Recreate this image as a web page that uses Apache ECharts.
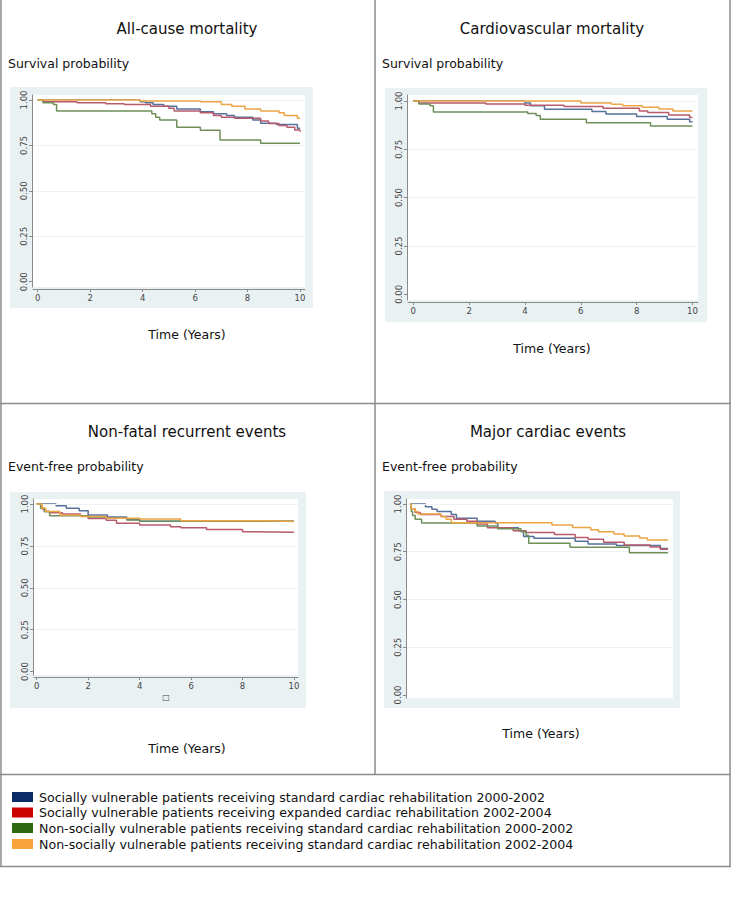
<!DOCTYPE html>
<html><head><meta charset="utf-8">
<script src="https://cdn.jsdelivr.net/npm/echarts@6/dist/echarts.min.js"></script>
<style>html,body{margin:0;padding:0;background:#fff}#c{width:731px;height:900px}</style>
</head><body><div id="c"></div>
<script>
// ---------- data (time in years, survival / event-free probability) ----------
const yTicks = [0, 0.25, 0.5, 0.75, 1];
const xTicks = [0, 2, 4, 6, 8, 10];
const panelTitles = ['All-cause mortality', 'Cardiovascular mortality', 'Non-fatal recurrent events', 'Major cardiac events'];
const yTitles = ['Survival probability', 'Survival probability', 'Event-free probability', 'Event-free probability'];
const xTitle = 'Time (Years)';
const groupNames = [
  'Socially vulnerable patients receiving standard cardiac rehabilitation 2000-2002',
  'Socially vulnerable patients receiving expanded cardiac rehabilitation 2002-2004',
  'Non-socially vulnerable patients receiving standard cardiac rehabilitation 2000-2002',
  'Non-socially vulnerable patients receiving standard cardiac rehabilitation 2002-2004'
];

// All-cause mortality
const acBlue = [[0,1],[3.9,0.99],[4.1,0.985],[4.4,0.975],[4.8,0.965],[5.3,0.95],[6.2,0.935],[6.7,0.925],[7.2,0.915],[7.5,0.905],[8.2,0.89],[8.5,0.872],[9.1,0.865],[9.9,0.845],[10,0.845]];
const acRed = [[0,1],[0.2,0.99],[1.5,0.985],[2.6,0.98],[3.3,0.975],[4.3,0.965],[5.0,0.955],[5.2,0.94],[6.2,0.93],[6.7,0.915],[7.0,0.905],[7.5,0.9],[8.5,0.885],[8.8,0.87],[9.2,0.86],[9.5,0.85],[9.8,0.835],[10,0.825]];
const acGreen = [[0,1],[0.2,0.985],[0.6,0.975],[0.72,0.94],[4.35,0.925],[4.5,0.905],[4.65,0.89],[5.3,0.85],[6.2,0.834],[6.95,0.78],[8.5,0.762],[10,0.762]];
const acOrange = [[0,1],[3.9,0.995],[6.2,0.99],[7.0,0.975],[7.4,0.965],[7.9,0.95],[8.5,0.94],[9.2,0.93],[9.4,0.915],[9.9,0.9],[10,0.9]];

// Cardiovascular mortality
const cvBlue = [[0,1],[4.0,0.99],[4.2,0.975],[4.7,0.957],[6.4,0.945],[6.9,0.933],[8.0,0.92],[9.1,0.905],[9.9,0.893],[10,0.893]];
const cvRed = [[0,1],[0.2,0.99],[2.6,0.985],[4.0,0.978],[5.4,0.971],[6.8,0.962],[8.1,0.948],[8.4,0.94],[9.15,0.928],[9.9,0.914],[10,0.914]];
const cvGreen = [[0,1],[0.2,0.985],[0.6,0.975],[0.72,0.943],[4.1,0.935],[4.4,0.925],[4.55,0.905],[6.2,0.888],[8.5,0.871],[10,0.871]];
const cvOrange = [[0,1],[6.0,0.99],[7.1,0.983],[7.5,0.975],[8.2,0.967],[8.8,0.958],[9.3,0.948],[10,0.948]];

// Non-fatal recurrent events
const nfBlue = [[0,1],[0.75,0.99],[1.15,0.975],[1.65,0.96],[2.0,0.935],[2.75,0.922],[3.5,0.908],[4.0,0.898],[10,0.898]];
const nfRed = [[0,1],[0.2,0.97],[0.3,0.955],[0.5,0.948],[1.0,0.94],[1.7,0.93],[2.0,0.913],[2.7,0.903],[3.1,0.885],[4.0,0.875],[5.2,0.865],[5.6,0.858],[6.6,0.848],[8.0,0.835],[8.3,0.831],[10,0.831]];
const nfGreen = [[0,1],[0.15,0.975],[0.3,0.955],[0.5,0.93],[2.0,0.922],[2.7,0.915],[3.5,0.905],[4.0,0.897],[10,0.897]];
const nfOrange = [[0,1],[0.2,0.975],[0.35,0.955],[0.9,0.935],[1.7,0.925],[2.7,0.915],[4.0,0.91],[5.6,0.9],[8.9,0.896],[10,0.896]];

// Major cardiac events
const mcBlue = [[0,1],[0.6,0.985],[0.85,0.972],[1.05,0.96],[1.6,0.945],[1.8,0.925],[2.6,0.91],[3.3,0.9],[3.4,0.875],[4.2,0.86],[4.4,0.83],[4.8,0.82],[6.4,0.805],[6.9,0.79],[8.0,0.783],[9.7,0.767],[10,0.767]];
const mcRed = [[0,1],[0.05,0.975],[0.2,0.955],[0.4,0.945],[1.2,0.935],[1.7,0.92],[2.2,0.91],[2.6,0.895],[3.0,0.875],[4.0,0.86],[4.5,0.85],[5.6,0.84],[6.4,0.825],[6.9,0.815],[7.5,0.8],[8.3,0.785],[9.3,0.775],[9.7,0.763],[10,0.763]];
const mcGreen = [[0,1],[0.05,0.96],[0.1,0.94],[0.2,0.92],[0.45,0.9],[2.6,0.885],[3.4,0.87],[4.3,0.855],[4.5,0.835],[4.6,0.795],[6.2,0.773],[8.5,0.745],[10,0.745]];
const mcOrange = [[0,1],[0.05,0.975],[0.2,0.96],[0.3,0.947],[1.2,0.935],[1.4,0.92],[1.6,0.902],[5.5,0.89],[6.3,0.877],[7.0,0.865],[7.3,0.855],[7.9,0.843],[8.3,0.832],[8.9,0.822],[9.2,0.812],[10,0.812]];

const panelData = [
  [acBlue, acRed, acGreen, acOrange],
  [cvBlue, cvRed, cvGreen, cvOrange],
  [nfBlue, nfRed, nfGreen, nfOrange],
  [mcBlue, mcRed, mcGreen, mcOrange]
];

// ---------- styling / layout ----------
const lineColors = ['#56719b', '#b65a6c', '#6e8f58', '#eca445'];
const legendColors = ['#0c2a66', '#cc0000', '#2d6a12', '#f9a33c'];
const FONT = 'DejaVu Sans';

const layout = [
  { panel:[10,87,303,221], grid:{left:33, top:95, width:272, height:192}, x:[-0.179,10.19], y:[-0.029,1.0275], showX:true,
    title:[187,29], ytitle:[8,63], xtitle:[187,334] },
  { panel:[385,88,322,234], grid:{left:408, top:95, width:290, height:205}, x:[-0.19,10.2], y:[-0.0295,1.031], showX:true,
    title:[552,29], ytitle:[382,63], xtitle:[552,348] },
  { panel:[10,492,296,216], grid:{left:34, top:499, width:264, height:176}, x:[-0.105,10.155], y:[-0.02,1.03], showX:true, xname:'\u25A1',
    title:[187,432], ytitle:[8,466], xtitle:[187,748] },
  { panel:[384,491,296,217], grid:{left:407, top:499, width:266, height:199}, x:[-0.116,10.19], y:[-0.0157,1.026], showX:false,
    title:[548,432], ytitle:[382,466], xtitle:[541,733] }
];

const grids = [], xAxes = [], yAxes = [], series = [], graphics = [];

// frame lines
const frameColor = '#8c8c8c';
function hline(x1, x2, y) { graphics.push({type:'line', z:100, shape:{x1, y1:y, x2, y2:y}, style:{stroke:frameColor, lineWidth:1.5}}); }
function vline(x, y1, y2) { graphics.push({type:'line', z:100, shape:{x1:x, y1, x2:x, y2}, style:{stroke:frameColor, lineWidth:1.5}}); }
vline(1, 0, 867); vline(375, 0, 774); vline(730, 0, 867);
hline(0, 731, 403.5); hline(0, 731, 774.5); hline(0, 731, 866.5);

layout.forEach((L, i) => {
  graphics.push({type:'rect', z:-10, silent:true, shape:{x:L.panel[0], y:L.panel[1], width:L.panel[2], height:L.panel[3]}, style:{fill:'#eaf1f3'}});
  graphics.push({type:'text', x:L.title[0], y:L.title[1], style:{text:panelTitles[i], font:'15px "' + FONT + '"', fill:'#111', textAlign:'center', textVerticalAlign:'middle'}});
  graphics.push({type:'text', x:L.ytitle[0], y:L.ytitle[1], style:{text:yTitles[i], font:'12.5px "' + FONT + '"', fill:'#111', textAlign:'left', textVerticalAlign:'middle'}});
  graphics.push({type:'text', x:L.xtitle[0], y:L.xtitle[1], style:{text:xTitle, font:'12.5px "' + FONT + '"', fill:'#111', textAlign:'center', textVerticalAlign:'middle'}});

  grids.push(Object.assign({show:true, backgroundColor:'#ffffff', borderWidth:0, containLabel:false}, L.grid));
  xAxes.push({
    type:'value', gridIndex:i, min:L.x[0], max:L.x[1], offset:2, show:L.showX,
    name: L.xname || '', nameLocation:'middle', nameGap:16,
    nameTextStyle:{fontFamily:FONT, fontSize:8, color:'#444'},
    axisLine:{show:true, onZero:false, lineStyle:{color:'#8a8a8a', width:1}},
    axisTick:{show:true, length:3, customValues:xTicks, lineStyle:{color:'#8a8a8a'}},
    axisLabel:{show:true, customValues:xTicks, fontFamily:FONT, fontSize:8.5, color:'#444', margin:4},
    splitLine:{show:false}
  });
  yAxes.push({
    type:'value', gridIndex:i, min:L.y[0], max:L.y[1], offset:1,
    axisLine:{show:true, onZero:false, lineStyle:{color:'#8a8a8a', width:1}},
    axisTick:{show:true, length:3, customValues:yTicks, lineStyle:{color:'#8a8a8a'}},
    axisLabel:{show:true, customValues:yTicks, rotate:90, fontFamily:FONT, fontSize:8.5, color:'#444', margin:4,
      formatter: v => v.toFixed(2)},
    splitLine:{show:false}
  });
  // horizontal reference grid lines at the tick values
  series.push({
    type:'line', xAxisIndex:i, yAxisIndex:i, data:[], silent:true,
    markLine:{silent:true, symbol:'none', label:{show:false}, lineStyle:{color:'#edf2f4', width:1, type:'solid'},
      data: yTicks.filter(v => v > 0).map(v => ({yAxis:v}))}
  });
  panelData[i].forEach((d, k) => {
    series.push({
      type:'line', step:'end', xAxisIndex:i, yAxisIndex:i, data:d, showSymbol:false, symbol:'none',
      lineStyle:{color:lineColors[k], width:1.5}, z:3 + k, animation:false, silent:true
    });
  });
});

// legend (manual, swatches + text)
const legendRows = [797, 812.5, 828, 844];
groupNames.forEach((n, k) => {
  graphics.push({type:'rect', shape:{x:12, y:legendRows[k]-5, width:21, height:10}, style:{fill:legendColors[k]}});
  graphics.push({type:'text', x:39, y:legendRows[k], style:{text:n, font:'12.6px "' + FONT + '"', fill:'#111', textAlign:'left', textVerticalAlign:'middle'}});
});

const chart = echarts.init(document.getElementById('c'), null, {renderer:'svg', width:731, height:900});
chart.setOption({
  animation:false,
  backgroundColor:'#ffffff',
  grid:grids, xAxis:xAxes, yAxis:yAxes, series:series,
  graphic:{elements:graphics}
});
</script>
</body></html>
